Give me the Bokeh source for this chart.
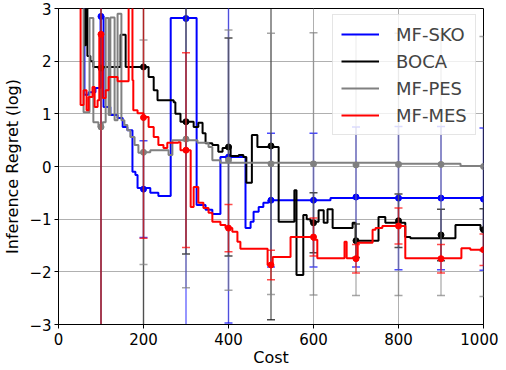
from bokeh.plotting import figure
from bokeh.models import FixedTicker, Legend, LegendItem, ColumnDataSource
from bokeh.embed import file_html
from bokeh.resources import INLINE

# ---- step-curve data (cost, log inference regret) ----
sko_cost = [56, 61, 71, 87, 99, 106, 122, 139, 151, 162, 174, 181, 186, 216, 235, 264, 325, 346, 362, 381,
            440, 452, 459, 471, 482, 494, 640, 852, 1000]
sko_regret = [3.3, 1.36, 1.41, 1.49, 2.85, 1.13, 0.98, 0.92, 0.75, 0.69, -0.10, -0.16, -0.41, -0.50, -0.56, 2.82,
              -0.73, -0.82, -0.90, 0.18, -1.17, -1.05, -0.86, -0.77, -0.69, -0.64, -0.60, -0.60, -0.62]

boca_cost = [54, 61, 64, 68, 75, 82, 146, 158, 212, 224, 233, 271, 275, 287, 318, 329, 339, 346, 362, 376, 386,
             398, 405, 424, 435, 442, 455, 468, 518, 555, 560, 576, 584, 593, 612, 624, 633, 645, 692, 699, 753,
             769, 816, 828, 934, 993, 1000]
boca_regret = [3.3, 2.3, 3.1, 2.1, 2.0, 1.89, 2.5, 1.89, 1.70, 1.45, 1.26, 1.22, 1.00, 0.85, 0.75, 0.83, 0.63,
               0.44, 0.41, 0.28, 0.35, 0.39, 0.20, 0.22, 0.18, -0.31, 0.60, 0.37, -1.05, -0.45, -2.06, -0.92,
               -1.00, -1.05, -0.83, -1.07, -0.81, -1.17, -1.07, -1.41, -0.96, -1.07, -1.34, -1.36, -1.11, -1.20,
               -1.20]

pes_cost = [54, 59, 73, 82, 94, 104, 111, 118, 122, 132, 139, 148, 155, 162, 169, 179, 188, 200, 216, 259, 268,
            327, 353, 362, 381, 569, 805, 946, 1000]
pes_regret = [3.3, 1.03, 2.82, 0.84, 0.75, 0.84, 2.82, 0.98, 2.83, 0.88, 2.90, 0.88, 0.79, 0.69, 0.56, 0.41,
              0.26, 0.27, 0.31, 0.22, 0.50, 0.45, 0.37, 0.12, 0.07, 0.07, 0.05, 0.01, 0.0]

mes_cost = [42, 52, 59, 66, 71, 80, 85, 92, 96, 104, 111, 118, 139, 165, 174, 176, 186, 200, 212, 224, 235, 247,
            256, 282, 287, 311, 318, 329, 341, 353, 362, 381, 393, 409, 421, 428, 492, 504, 546, 598, 609, 673,
            678, 704, 739, 746, 762, 816, 948, 969, 1000]
mes_regret = [3.3, 1.17, 1.45, 1.07, 1.32, 1.51, 1.13, 1.26, 2.51, 1.30, 1.45, 1.70, 1.62, 3.3, 1.64, 1.07, 1.01,
              0.94, 0.75, 0.56, 0.41, 0.35, 0.45, 0.46, 0.31, -0.77, -0.39, -0.69, -0.79, -0.88, -1.05, -1.11,
              -1.17, -1.24, -1.43, -1.56, -1.87, -1.72, -1.34, -1.39, -1.74, -1.43, -1.74, -1.45, -1.20, -1.17,
              -1.13, -1.74, -1.55, -1.58, -1.58]

# ---- error-bar checkpoints ----
check_cost = [100, 200, 300, 400, 500, 600, 700, 800, 900, 1000]
sko_mean = [2.85, -0.43, 2.81, 0.18, -0.64, -0.64, -0.58, -0.60, -0.60, -0.62]
sko_err = [6.0, 0.92, 5.9, 3.15, 1.27, 1.27, 1.33, 1.36, 1.36, 1.35]
boca_mean = [1.87, 1.89, 0.85, 0.37, 0.39, -1.07, -1.41, -1.03, -1.30, -1.20]
boca_err = [5.0, 5.0, 2.51, 2.07, 3.30, 0.57, 0.32, 0.51, 0.49, 0.40]
pes_mean = [0.75, 0.27, 0.52, 0.12, 0.05, 0.05, 0.03, 0.04, 0.04, 0.00]
pes_err = [5.0, 2.13, 2.82, 2.47, 2.48, 2.49, 2.48, 2.49, 2.49, 2.47]
mes_mean = [2.51, 0.93, 0.31, -1.17, -1.87, -1.34, -1.75, -1.13, -1.75, -1.58]
mes_err = [6.0, 2.29, 1.85, 0.45, 0.28, 0.36, 0.27, 0.34, 0.27, 0.30]

series_names = ["MF-SKO", "BOCA", "MF-PES", "MF-MES"]
series_colors = ["#0000ff", "#000000", "#808080", "#ff0000"]

x_ticks = [0, 200, 400, 600, 800, 1000]
y_ticks = [-3, -2, -1, 0, 1, 2, 3]
y_tick_labels = ["\u22123", "\u22122", "\u22121", "0", "1", "2", "3"]

FONT = "DejaVu Sans"

p = figure(frame_width=425, frame_height=316, x_range=(0, 1000), y_range=(-3, 3),
           output_backend="svg", toolbar_location=None,
           min_border_left=58, min_border_right=15, min_border_top=8, min_border_bottom=42,
           background_fill_color="white", border_fill_color="white")

p.outline_line_color = "black"
p.outline_line_width = 1
p.xgrid.grid_line_color = "#b0b0b0"
p.ygrid.grid_line_color = "#b0b0b0"
p.xgrid.grid_line_width = 1
p.ygrid.grid_line_width = 1

p.xaxis.ticker = FixedTicker(ticks=x_ticks)
p.yaxis.ticker = FixedTicker(ticks=y_ticks)
p.yaxis.major_label_overrides = {t: l for t, l in zip(y_ticks, y_tick_labels)}

for ax in (p.xaxis[0], p.yaxis[0]):
    ax.major_label_text_font = FONT
    ax.major_label_text_font_size = "15px"
    ax.major_label_text_color = "black"
    ax.axis_label_text_font = FONT
    ax.axis_label_text_font_size = "16px"
    ax.axis_label_text_font_style = "normal"
    ax.axis_label_text_color = "black"
    ax.minor_tick_line_color = None
    ax.major_tick_out = 4
    ax.major_tick_in = 0
    ax.major_tick_line_color = "black"
    ax.axis_line_color = "black"

p.xaxis.major_label_standoff = 4
p.yaxis.major_label_standoff = 3
p.xaxis.axis_label = "Cost"
p.yaxis.axis_label = "Inference Regret (log)"
p.xaxis.axis_label_standoff = 0
p.yaxis.axis_label_standoff = 4

steps = [(sko_cost, sko_regret), (boca_cost, boca_regret), (pes_cost, pes_regret), (mes_cost, mes_regret)]
marks = [(sko_mean, sko_err), (boca_mean, boca_err), (pes_mean, pes_err), (mes_mean, mes_err)]

items = []
for name, color, (sx, sy), (m, e) in zip(series_names, series_colors, steps, marks):
    r = p.step(sx, sy, mode="after", line_color=color, line_width=2)
    lo = [a - b for a, b in zip(m, e)]
    hi = [a + b for a, b in zip(m, e)]
    src = ColumnDataSource(dict(x=check_cost, m=m, lo=lo, hi=hi))
    p.segment(x0="x", y0="lo", x1="x", y1="hi", source=src, line_color=color, line_width=1.5, line_alpha=0.55)
    p.scatter(x="x", y="lo", source=src, marker="dash", size=8, line_color=color, line_width=1.5, line_alpha=0.7)
    p.scatter(x="x", y="hi", source=src, marker="dash", size=8, line_color=color, line_width=1.5, line_alpha=0.7)
    p.scatter(x="x", y="m", source=src, marker="circle", size=6, fill_color=color, line_color=color)
    items.append(LegendItem(label=name, renderers=[r]))

legend = Legend(items=items, location=(274, 189),
                label_text_font=FONT, label_text_font_size="18px",
                glyph_width=38, glyph_height=22, label_height=22, label_standoff=17,
                spacing=5, padding=8,
                border_line_color="#cccccc", border_line_width=1,
                background_fill_color="white", background_fill_alpha=0.8)
p.add_layout(legend)

open("out.html", "w").write(file_html(p, INLINE))
